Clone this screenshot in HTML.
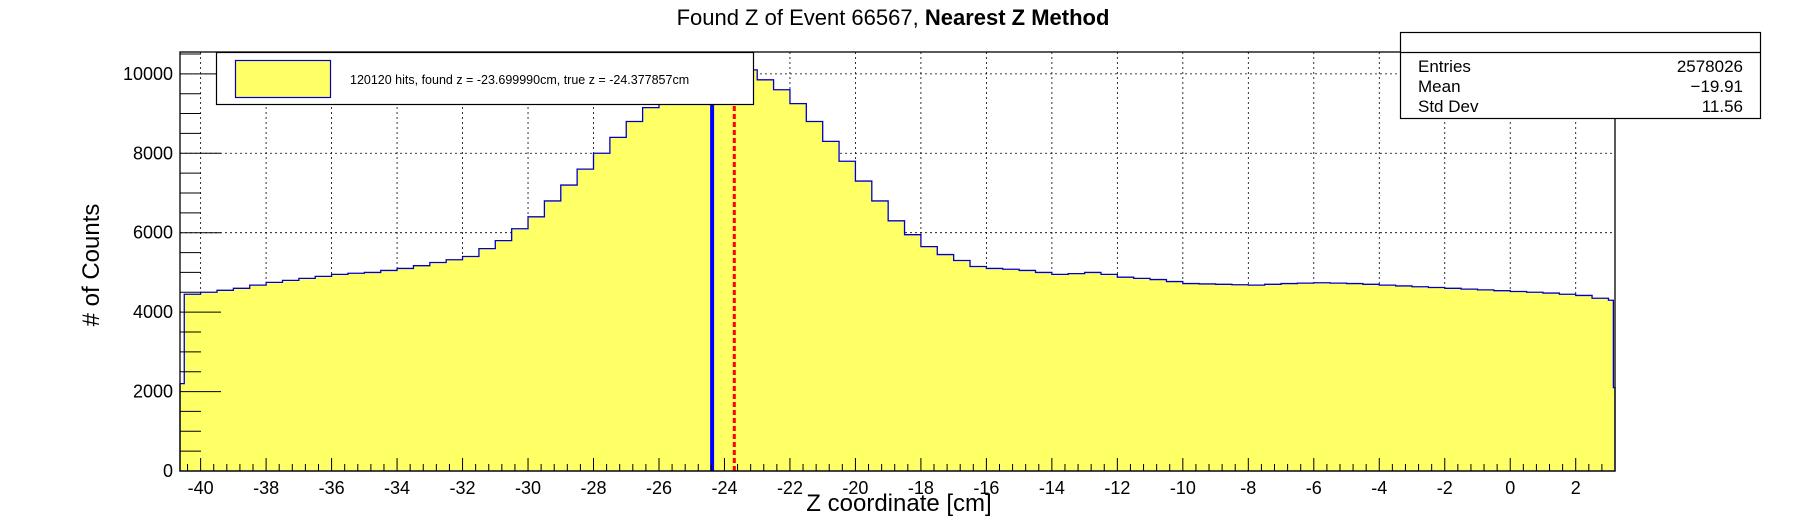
<!DOCTYPE html>
<html><head><meta charset="utf-8"><style>
body{margin:0;background:#fff;}
svg{display:block;font-family:"Liberation Sans",sans-serif;}
</style></head><body>
<svg id="c" width="1796" height="522" viewBox="0 0 1796 522">
<text x="893" y="25" font-size="22" text-anchor="middle">Found Z of Event 66567,   <tspan font-weight="bold">Nearest Z Method</tspan></text>
<g id="grid"></g>
<g id="hist"></g>
<g id="marks"></g>
<g id="axes"></g>
<text transform="translate(99,265) rotate(-90)" font-size="24" text-anchor="middle"># of Counts</text>
<text x="899" y="511" font-size="24" text-anchor="middle">Z coordinate [cm]</text>
<g>
<rect x="216.5" y="52.5" width="537" height="52" fill="#fff" stroke="#000" stroke-width="1.2"/>
<rect x="235.5" y="60.5" width="95" height="37" fill="#ffff66" stroke="#0000cc" stroke-width="1.2"/>
<text x="350" y="84" font-size="12.5">120120 hits, found z = -23.699990cm, true z = -24.377857cm</text>
</g>
<g>
<rect x="1400.5" y="32.5" width="360" height="86" fill="#fff" stroke="#000" stroke-width="1.2"/>
<line x1="1400" y1="52.5" x2="1761" y2="52.5" stroke="#000" stroke-width="1.2"/>
<text x="1418" y="72" font-size="17">Entries</text><text x="1743" y="72" font-size="17" text-anchor="end">2578026</text>
<text x="1418" y="92" font-size="17">Mean</text><text x="1743" y="92" font-size="17" text-anchor="end">−19.91</text>
<text x="1418" y="112" font-size="17">Std Dev</text><text x="1743" y="112" font-size="17" text-anchor="end">11.56</text>
</g>
</svg>
<script>
const binLows=[-40.63,-40.5,-40,-39.5,-39,-38.5,-38,-37.5,-37,-36.5,-36,-35.5,-35,-34.5,-34,-33.5,-33,-32.5,-32,-31.5,-31,-30.5,-30,-29.5,-29,-28.5,-28,-27.5,-27,-26.5,-26,-25.5,-25,-24.5,-24,-23.5,-23,-22.5,-22,-21.5,-21,-20.5,-20,-19.5,-19,-18.5,-18,-17.5,-17,-16.5,-16,-15.5,-15,-14.5,-14,-13.5,-13,-12.5,-12,-11.5,-11,-10.5,-10,-9.5,-9,-8.5,-8,-7.5,-7,-6.5,-6,-5.5,-5,-4.5,-4,-3.5,-3,-2.5,-2,-1.5,-1,-0.5,0,0.5,1,1.5,2,2.5,3,3.15];
const counts=[2200,4450,4500,4550,4600,4680,4750,4800,4850,4900,4950,4980,5000,5050,5100,5170,5250,5320,5400,5600,5800,6100,6400,6800,7200,7600,8000,8400,8800,9150,9500,9750,9950,10100,10150,10100,9850,9600,9250,8800,8300,7800,7300,6800,6300,5950,5650,5450,5300,5150,5100,5080,5050,5000,4950,4970,5000,4950,4880,4850,4820,4770,4720,4710,4700,4690,4680,4700,4720,4730,4740,4730,4720,4700,4680,4660,4640,4620,4600,4580,4560,4540,4520,4500,4480,4450,4420,4350,4300,2100];
const xMax=3.2;
const xTicks=[-40,-38,-36,-34,-32,-30,-28,-26,-24,-22,-20,-18,-16,-14,-12,-10,-8,-6,-4,-2,0,2];
const yTicks=[0,2000,4000,6000,8000,10000];
const trueZ=-24.377857, foundZ=-23.69999;
const L=180,R=1615,T=52,B=471,X0=-40.63,X1=3.2,Y1=10550;
const sx=v=>L+(v-X0)/(X1-X0)*(R-L), sy=v=>B-v/Y1*(B-T);
const NS='http://www.w3.org/2000/svg';
function mk(p,t,a){const e=document.createElementNS(NS,t);for(const k in a)e.setAttribute(k,a[k]);document.getElementById(p).appendChild(e);return e;}
xTicks.forEach(v=>{const e=mk('grid','line',{x1:sx(v),x2:sx(v),y1:T,y2:B,stroke:'#000','stroke-width':0.8,'stroke-dasharray':'2,3'});

});
yTicks.forEach(v=>{const e=mk('grid','line',{x1:L,x2:R,y1:sy(v),y2:sy(v),stroke:'#000','stroke-width':0.8,'stroke-dasharray':'2,3'});

});
let d='M'+sx(binLows[0])+','+sy(0);
for(let i=0;i<counts.length;i++){const x0=sx(binLows[i]),x1=sx(i+1<binLows.length?binLows[i+1]:xMax);d+=' L'+x0+','+sy(counts[i])+' L'+x1+','+sy(counts[i]);}
d+=' L'+sx(xMax)+','+sy(0)+' Z';
const h=mk('hist','path',{d:d,fill:'#ffff66',stroke:'#0000cc','stroke-width':1.3});


const tl=mk('marks','line',{x1:sx(trueZ),x2:sx(trueZ),y1:sy(0),y2:sy(Y1)+2,stroke:'#0000ff','stroke-width':4});


const fl=mk('marks','line',{x1:sx(foundZ),x2:sx(foundZ),y1:sy(0),y2:sy(Y1)+2,stroke:'#ff0000','stroke-width':3,'stroke-dasharray':'5,3'});


const fr=mk('axes','rect',{x:L,y:T,width:R-L,height:B-T,fill:'none',stroke:'#000','stroke-width':1.3});


for(let v=-40.4;v<=3.2;v+=0.4){const maj=Math.abs(v/2-Math.round(v/2))<0.01;mk('axes','line',{x1:sx(v),x2:sx(v),y1:B,y2:B-(maj?13:7),stroke:'#000','stroke-width':1});}
for(let v=0;v<=Y1;v+=500){const maj=v%2000===0;mk('axes','line',{x1:L,x2:L+(maj?41:21),y1:sy(v),y2:sy(v),stroke:'#000','stroke-width':1});}
xTicks.forEach(v=>{const t=mk('axes','text',{x:sx(v),y:B+23,'font-size':18,'text-anchor':'middle'});t.textContent=v;

});
yTicks.forEach(v=>{const t=mk('axes','text',{x:L-7,y:sy(v)+6,'font-size':18,'text-anchor':'end'});t.textContent=v;

});
</script>
</body></html>
